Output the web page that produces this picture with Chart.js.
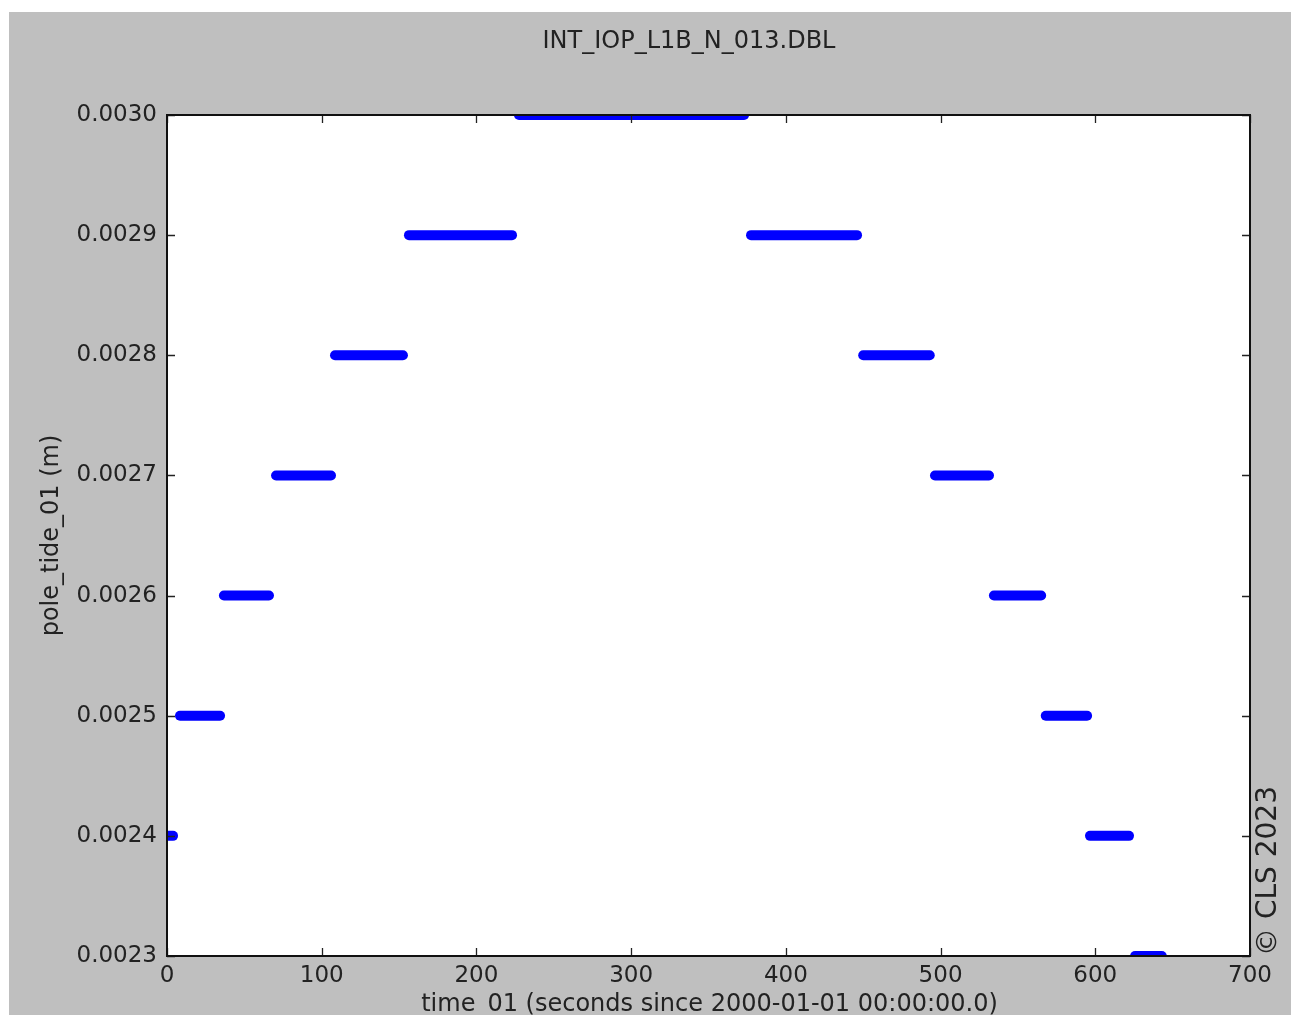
<!DOCTYPE html>
<html>
<head>
<meta charset="utf-8">
<script src="https://cdn.jsdelivr.net/npm/chart.js@4/dist/chart.umd.min.js"></script>
<style>
  html, body { margin: 0; padding: 0; background: #fff; }
  #wrap { width: 1292px; height: 1017px; position: relative; }
</style>
</head>
<body>
<div id="wrap"><canvas id="chart" width="1292" height="1017"></canvas></div>
<script>
// pole tide steps: level (m) and start/end time (s) of each run of samples
const levels   = [0.0024, 0.0025, 0.0026, 0.0027, 0.0028, 0.0029, 0.0030, 0.0029, 0.0028, 0.0027, 0.0026, 0.0025, 0.0024, 0.0023];
const segStart = [0,      8.4,    36.8,   70.5,   108.6,  156.4,  227.5,  377.5,  450,    496.4,  534.5,  568,    596.6,  625.7];
const segEnd   = [3.9,    34.3,   65.9,   106,    152.5,  223,    373,    446,    493,    531.3,  565,    594.7,  621.8,  643];

const xTicks = [0, 100, 200, 300, 400, 500, 600, 700];
const yTicks = [0.0023, 0.0024, 0.0025, 0.0026, 0.0027, 0.0028, 0.0029, 0.0030];

const chartTitle = 'INT_IOP_L1B_N_013.DBL';
const xLabel = 'time_01 (seconds since 2000-01-01 00:00:00.0)';
const yLabel = 'pole_tide_01 (m)';
const credit = '\u00A9 CLS 2023';

const FONT = "'DejaVu Sans', sans-serif";
const TXT = '#222';

const datasets = levels.map((v, i) => ({
    data: [{ x: segStart[i], y: v }, { x: segEnd[i], y: v }],
    borderColor: '#0000ff',
    borderWidth: 10,
    borderCapStyle: 'round',
    pointRadius: 0,
    clip: 0
}));

// gray figure, white axes box, inward ticks and texts
const framePlugin = {
    id: 'frame',
    beforeDraw(chart) {
        const c = chart.ctx, a = chart.chartArea;
        c.save();
        c.fillStyle = '#bfbfbf';
        c.fillRect(9, 12, 1282, 1003);
        c.fillStyle = '#fff';
        c.fillRect(a.left, a.top, a.right - a.left, a.bottom - a.top);
        c.restore();
    },
    afterDraw(chart) {
        const c = chart.ctx, a = chart.chartArea;
        const xs = chart.scales.x, ys = chart.scales.y;
        c.save();
        c.strokeStyle = '#222';
        c.lineWidth = 1.3;
        c.beginPath();
        xTicks.forEach(t => {
            const px = Math.round(xs.getPixelForValue(t)) + 0.5;
            c.moveTo(px, a.bottom); c.lineTo(px, a.bottom - 8);
            c.moveTo(px, a.top); c.lineTo(px, a.top + 8);
        });
        yTicks.forEach(t => {
            const py = Math.round(ys.getPixelForValue(t)) + 0.5;
            c.moveTo(a.left, py); c.lineTo(a.left + 8, py);
            c.moveTo(a.right, py); c.lineTo(a.right - 8, py);
        });
        c.stroke();
        c.lineWidth = 2;
        c.strokeStyle = '#111';
        c.strokeRect(a.left, a.top, a.right - a.left, a.bottom - a.top);

        c.fillStyle = TXT;
        c.font = '24px ' + FONT;
        c.textAlign = 'center';
        c.textBaseline = 'middle';
        c.fillText(chartTitle, 689, 42);
        c.fillText(xLabel, (a.left + a.right) / 2 + 1, 1005);

        c.save();
        c.translate(52, (a.top + a.bottom) / 2);
        c.rotate(-Math.PI / 2);
        c.font = '24px ' + FONT;
        c.fillText(yLabel, 0, 0);
        c.restore();

        c.save();
        c.translate(1269, a.bottom);
        c.rotate(-Math.PI / 2);
        c.font = '28px ' + FONT;
        c.textAlign = 'left';
        c.fillText(credit, 0, 0);
        c.restore();

        // white page margin around the figure
        c.fillStyle = '#fff';
        c.fillRect(0, 1015, 1292, 2);
        c.restore();
    }
};

new Chart(document.getElementById('chart'), {
    type: 'line',
    data: { datasets },
    options: {
        responsive: false,
        animation: false,
        events: [],
        layout: { padding: { left: 0, top: 115, right: 42, bottom: 0 } },
        plugins: { legend: { display: false }, tooltip: { enabled: false } },
        scales: {
            x: {
                type: 'linear',
                min: 0,
                max: 700,
                afterFit(s) { s.height = 61; },
                afterBuildTicks(s) { s.ticks = xTicks.map(v => ({ value: v })); },
                grid: { display: false, drawTicks: false },
                border: { display: false },
                ticks: { padding: 6, color: TXT, font: { family: FONT, size: 23 }, maxRotation: 0 }
            },
            y: {
                type: 'linear',
                min: 0.0023,
                max: 0.0030,
                afterFit(s) { s.width = 167; },
                afterBuildTicks(s) { s.ticks = yTicks.map(v => ({ value: v })); },
                grid: { display: false, drawTicks: false },
                border: { display: false },
                ticks: {
                    padding: 10, color: TXT, font: { family: FONT, size: 23 },
                    callback: v => Number(v).toFixed(4)
                }
            }
        }
    },
    plugins: [framePlugin]
});
</script>
</body>
</html>
